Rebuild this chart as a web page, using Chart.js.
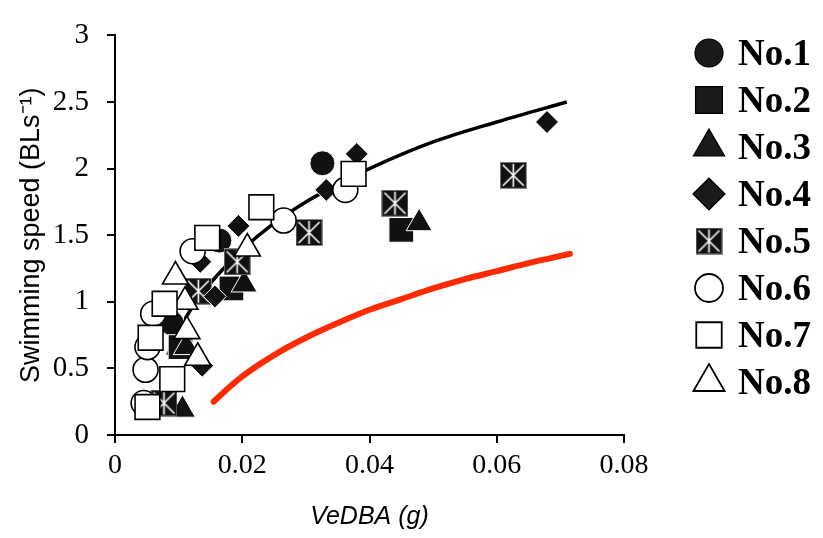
<!DOCTYPE html>
<html>
<head>
<meta charset="utf-8">
<script src="https://cdn.jsdelivr.net/npm/chart.js"></script>
<style>
  html, body { margin: 0; padding: 0; background: #fff; }
</style>
</head>
<body>
<canvas id="speedChart" width="823" height="538"></canvas>
<script>
// [VeDBA (g), swimming speed (BL/s)]
const no1 = [[0.0326, 2.04], [0.0164, 1.46], [0.0089, 0.84]];
const no2 = [[0.0183, 1.10], [0.0450, 1.54], [0.0103, 0.66]];
const no3 = [[0.0106, 0.19], [0.0203, 1.13], [0.0478, 1.59], [0.0112, 0.66]];
const no4 = [[0.0194, 1.57], [0.0134, 1.30], [0.0137, 0.52], [0.0157, 1.04],
             [0.0380, 2.11], [0.0332, 1.84], [0.0679, 2.35]];
const no5 = [[0.0131, 1.08], [0.0192, 1.30], [0.0077, 0.24], [0.0305, 1.52],
             [0.0440, 1.74], [0.0626, 1.95]];
const no6 = [[0.0045, 0.24], [0.0048, 0.49], [0.0051, 0.66], [0.0060, 0.91],
             [0.0122, 1.38], [0.0265, 1.61], [0.0362, 1.84]];
const no7 = [[0.0051, 0.21], [0.0090, 0.42], [0.0056, 0.73], [0.0078, 0.985],
             [0.0145, 1.48], [0.0230, 1.71], [0.0375, 1.96]];
const no8 = [[0.0095, 1.19], [0.0110, 1.00], [0.0113, 0.78], [0.0130, 0.58],
             [0.0208, 1.40]];

// fitted curves
const blackFit = [[0.0083, 0.60], [0.010, 0.78], [0.012, 0.95], [0.015, 1.14],
                  [0.020, 1.39], [0.025, 1.59], [0.030, 1.75], [0.035, 1.88],
                  [0.040, 2.00], [0.050, 2.20], [0.060, 2.35], [0.071, 2.50]];
const redFit = [[0.0155, 0.25], [0.018, 0.36], [0.020, 0.44], [0.025, 0.60],
                [0.030, 0.73], [0.035, 0.84], [0.040, 0.94], [0.045, 1.02],
                [0.050, 1.10], [0.055, 1.17], [0.060, 1.23], [0.065, 1.29],
                [0.0715, 1.36]];

const legendLabels = ['No.1', 'No.2', 'No.3', 'No.4', 'No.5', 'No.6', 'No.7', 'No.8'];
const xTicks = [0, 0.02, 0.04, 0.06, 0.08];

const pts = arr => arr.map(p => ({ x: p[0], y: p[1] }));

// black square with white asterisk (No.5)
function boxedStar(size) {
  const c = document.createElement('canvas');
  c.width = size; c.height = size;
  const g = c.getContext('2d');
  g.fillStyle = '#888';
  g.fillRect(0, 0, size, size);
  g.fillStyle = '#111';
  g.fillRect(1, 1, size - 2, size - 2);
  g.strokeStyle = '#fff';
  g.lineWidth = 1.6;
  g.beginPath();
  g.moveTo(3, 3); g.lineTo(size - 3, size - 3);
  g.moveTo(size - 3, 3); g.lineTo(3, size - 3);
  g.moveTo(size / 2, 2); g.lineTo(size / 2, size - 2);
  g.stroke();
  return c;
}
const starPlot = boxedStar(27);
const starLegend = boxedStar(27);

const filled = '#111';

function markerSet(label, data, style, radius, open, order, legendStyle, legendRadius) {
  return {
    label: label,
    data: pts(data),
    pointStyle: style,
    pointRadius: radius,
    pointHoverRadius: radius,
    backgroundColor: open ? '#fff' : filled,
    borderColor: open ? '#000' : '#fff',
    pointBorderWidth: open ? 1.6 : 1,
    showLine: false,
    order: order,
    legendStyle: legendStyle || style,
    legendRadius: legendRadius
  };
}

const sideLegend = {
  id: 'sideLegend',
  afterDraw(chart, args, opts) {
    const ctx = chart.ctx;
    ctx.save();
    chart.data.datasets.forEach(ds => {
      const row = legendLabels.indexOf(ds.label);
      if (row < 0) return;
      const y = opts.top + row * opts.step;
      const open = ds.backgroundColor === '#fff';
      ctx.fillStyle = open ? '#fff' : '#1a1a1a';
      ctx.strokeStyle = '#000';
      ctx.lineWidth = open ? 1.8 : 1.2;
      Chart.helpers.drawPoint(ctx, {
        pointStyle: ds.legendStyle,
        radius: ds.legendRadius,
        borderWidth: ctx.lineWidth,
        rotation: 0
      }, opts.markerX, y);
      ctx.fillStyle = '#000';
      ctx.font = 'bold 37px "Liberation Serif", "Times New Roman", serif';
      ctx.textBaseline = 'middle';
      ctx.textAlign = 'left';
      ctx.fillText(ds.label, opts.textX, y + 2);
    });
    ctx.restore();
  }
};

const serif = '"Liberation Serif", "Times New Roman", serif';
const sans = '"Liberation Sans", Arial, sans-serif';

new Chart(document.getElementById('speedChart'), {
  type: 'scatter',
  data: {
    datasets: [
      markerSet('No.1', no1, 'circle', 12.5, false, 8, 'circle', 14),
      markerSet('No.2', no2, 'rect', 17.5, false, 7, 'rect', 19),
      markerSet('No.3', no3, 'triangle', 15, false, 6, 'triangle', 18),
      markerSet('No.4', no4, 'rectRot', 11.5, false, 4, 'rectRot', 16),
      markerSet('No.5', no5, starPlot, 13, false, 5, starLegend, 13),
      markerSet('No.6', no6, 'circle', 12.5, true, 2, 'circle', 14),
      markerSet('No.7', no7, 'rect', 17.5, true, 0, 'rect', 18),
      markerSet('No.8', no8, 'triangle', 15, true, 1, 'triangle', 18),
      {
        label: 'fit',
        data: pts(blackFit),
        showLine: true,
        borderColor: '#000',
        borderWidth: 3.5,
        pointRadius: 0,
        cubicInterpolationMode: 'monotone',
        order: 20
      },
      {
        label: 'fit2',
        data: pts(redFit),
        showLine: true,
        borderColor: '#ff2a00',
        borderWidth: 6,
        borderCapStyle: 'round',
        pointRadius: 0,
        cubicInterpolationMode: 'monotone',
        order: 20
      }
    ]
  },
  options: {
    responsive: false,
    animation: false,
    events: [],
    layout: { padding: { left: 0, right: 199, top: 19, bottom: 0 } },
    plugins: {
      legend: { display: false },
      tooltip: { enabled: false },
      sideLegend: { markerX: 709, textX: 738, top: 53, step: 47 }
    },
    scales: {
      x: {
        type: 'linear',
        min: 0,
        max: 0.08,
        afterFit: s => { s.height = 103; },
        afterBuildTicks: s => { s.ticks = xTicks.map(v => ({ value: v })); },
        ticks: {
          color: '#000',
          font: { family: serif, size: 28 },
          padding: 6,
          maxRotation: 0,
          callback: v => v === 0 ? '0' : v.toFixed(2)
        },
        grid: { drawOnChartArea: false, drawTicks: true, tickLength: 8, color: '#000', lineWidth: 2 },
        border: { display: true, color: '#000', width: 2 },
        title: {
          display: true,
          text: 'VeDBA (g)',
          color: '#000',
          font: { family: sans, size: 25, style: 'italic' },
          padding: { top: 0, bottom: 6 }
        }
      },
      y: {
        min: 0,
        max: 3,
        afterFit: s => { s.width = 115; },
        ticks: {
          stepSize: 0.5,
          color: '#000',
          font: { family: serif, size: 29 },
          padding: 18,
          callback: v => String(Number(v))
        },
        grid: { drawOnChartArea: false, drawTicks: true, tickLength: 8, color: '#000', lineWidth: 2 },
        border: { display: true, color: '#000', width: 2 },
        title: {
          display: true,
          text: 'Swimming speed (BLs⁻¹)',
          color: '#000',
          font: { family: sans, size: 27 },
          padding: { top: 15, bottom: 0 }
        }
      }
    }
  },
  plugins: [sideLegend]
});
</script>
</body>
</html>
